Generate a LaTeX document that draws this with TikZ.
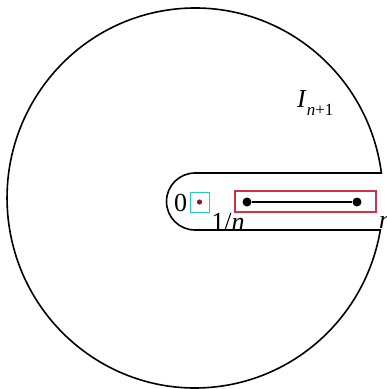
\documentclass[tikz,border=0pt]{standalone}
\usepackage{fontspec}
\setmainfont{Liberation Serif}
\definecolor{boxcyan}{RGB}{40,200,200}
\definecolor{boxred}{RGB}{210,50,70}
\definecolor{dotred}{RGB}{140,20,50}
\tikzset{
  contour/.style={line width=1.6pt, black},
  lbl/.style={inner sep=0pt, font=\fontsize{26}{30}\selectfont},
  pt/.style={circle, fill=black, inner sep=0pt, minimum size=9pt},
}
\newcommand{\subtxt}[1]{\raisebox{-0.32em}{\fontsize{17}{20}\selectfont #1}}
\begin{document}
\begin{tikzpicture}[x=1pt,y=-1pt]
\useasboundingbox (0,0) rectangle (387,389);
% keyhole contour
\draw[contour] (381.4,173) arc[start angle=-7.56, end angle=-350.3, x radius=188, y radius=190]
  -- (195,230) arc[start angle=90, end angle=270, radius=28.5] -- cycle;
% labels
\node[lbl] (zero) at (180.5,203) {0};
\node[draw=boxcyan, line width=1pt, minimum width=19pt, minimum height=20pt, inner sep=0pt] (sq) at (199.5,202) {};
\fill[dotred] (sq.center) circle[radius=2.6];
\node[draw=boxred, line width=1.2pt, minimum width=141pt, minimum height=21pt, inner sep=0pt] (rbox) at (305.5,201.5) {};
\node[pt] (a) at (247,202) {};
\node[pt] (b) at (357,202) {};
\draw[line width=1.2pt] (a) -- (b);
\node[lbl] (inv) at (228,222) {1/\textit{n}};
\node[lbl, anchor=west] (nr) at (379,222) {\textit{n}};
\node[lbl, anchor=base west] (In) at (297,107) {\textit{I}\subtxt{\textit{n}+1}};
\end{tikzpicture}
\end{document}
